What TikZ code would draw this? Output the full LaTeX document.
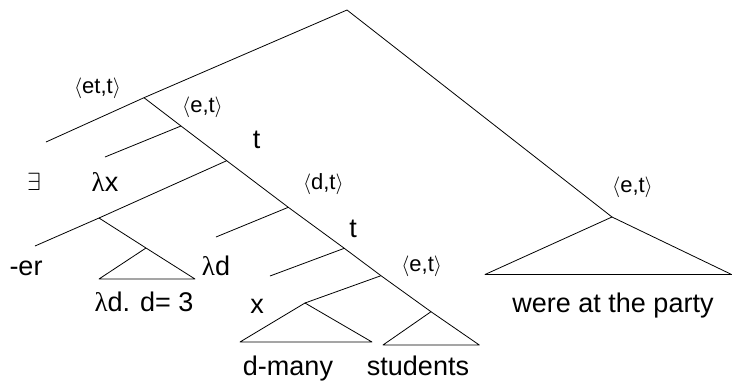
\documentclass[tikz,border=0pt]{standalone}
\usepackage{fontspec}
\setmainfont{Liberation Sans}
\newfontfamily\grkfont{Liberation Serif}
\newcommand{\lam}{{\grkfont λ}}
\usetikzlibrary{positioning}
\tikzset{
  word/.style={font=\fontsize{27}{31}\selectfont, inner sep=0pt, anchor=base},
  semtype/.style={font=\fontsize{22}{26}\selectfont, inner sep=0pt},
  branch/.style={line width=0.8pt, line join=round},
}
\begin{document}
\begin{tikzpicture}[x=1pt,y=-1pt]
        \useasboundingbox (0,0) rectangle (732,381);
        % branching points
        \coordinate (root) at (347,10);
        \coordinate (quant) at (144,97.7);
        \coordinate (exist) at (46,142);
        \coordinate (abs) at (181,126);
        \coordinate (lamx) at (105,157);
        \coordinate (tx) at (226.7,160.7);
        \coordinate (er) at (99,218);
        \coordinate (erleaf) at (35,246);
        \coordinate (three) at (146,248);
        \coordinate (threel) at (99,279);
        \coordinate (threer) at (195,279);
        \coordinate (dabs) at (288.3,207.3);
        \coordinate (lamd) at (216,237);
        \coordinate (td) at (344.3,248.3);
        \coordinate (xleaf) at (270,276);
        \coordinate (np) at (381,275.7);
        \coordinate (many) at (305,303);
        \coordinate (manyl) at (240,342);
        \coordinate (manyr) at (372,342);
        \coordinate (stud) at (431,311.7);
        \coordinate (studl) at (383,345);
        \coordinate (studr) at (479.3,345);
        \coordinate (vp) at (612,217);
        \coordinate (vpl) at (485,274.5);
        \coordinate (vpr) at (731.6,274.5);
        % branches
        \draw[branch] (exist) -- (quant) -- (root) -- (vp);
        \draw[branch] (quant) -- (abs) -- (tx) -- (dabs) -- (td) -- (np) -- (stud) -- (studr) -- (studl) -- (stud);
        \draw[branch] (abs) -- (lamx);
        \draw[branch] (tx) -- (er) -- (erleaf);
        \draw[branch] (er) -- (three) -- (threer) -- (threel) -- (three);
        \draw[branch] (dabs) -- (lamd);
        \draw[branch] (td) -- (xleaf);
        \draw[branch] (np) -- (many);
        \draw[branch] (many) -- (manyl) -- (manyr) -- cycle;
        \draw[branch] (vp) -- (vpl) -- (vpr) -- cycle;
        % labels
        \node[semtype] (quanttype) at (97.5,88.3) {$\langle$et,t$\rangle$};
        \node[semtype] (abstype) at (202.5,107) {$\langle$e,t$\rangle$};
        \node[semtype] (dabstype) at (323.3,183.7) {$\langle$d,t$\rangle$};
        \node[semtype] (studtype) at (421.7,266.7) {$\langle$e,t$\rangle$};
        \node[semtype] (vptype) at (632.5,187) {$\langle$e,t$\rangle$};
        \node[word] (txlabel) at (256.5,148) {t};
        \node[word] (tdlabel) at (353,237) {t};
        \node[word] (existlabel) at (34,190) {$\exists$};
        \node[word] (lamxlabel) at (105,191) {\lam x};
        \node[word] (erlabel) at (26,275) {-er};
        \node[word] (lamdlabel) at (216,275) {\lam d};
        \node[word] (threelabel) at (144,311.7) {\lam d. d= 3};
        \node[word] (xlabel) at (257,313) {x};
        \node[word] (manylabel) at (288,375) {d-many};
        \node[word] (studlabel) at (418,375) {students};
        \node[word] (vplabel) at (613,312) {were at the party};
\end{tikzpicture}
\end{document}
